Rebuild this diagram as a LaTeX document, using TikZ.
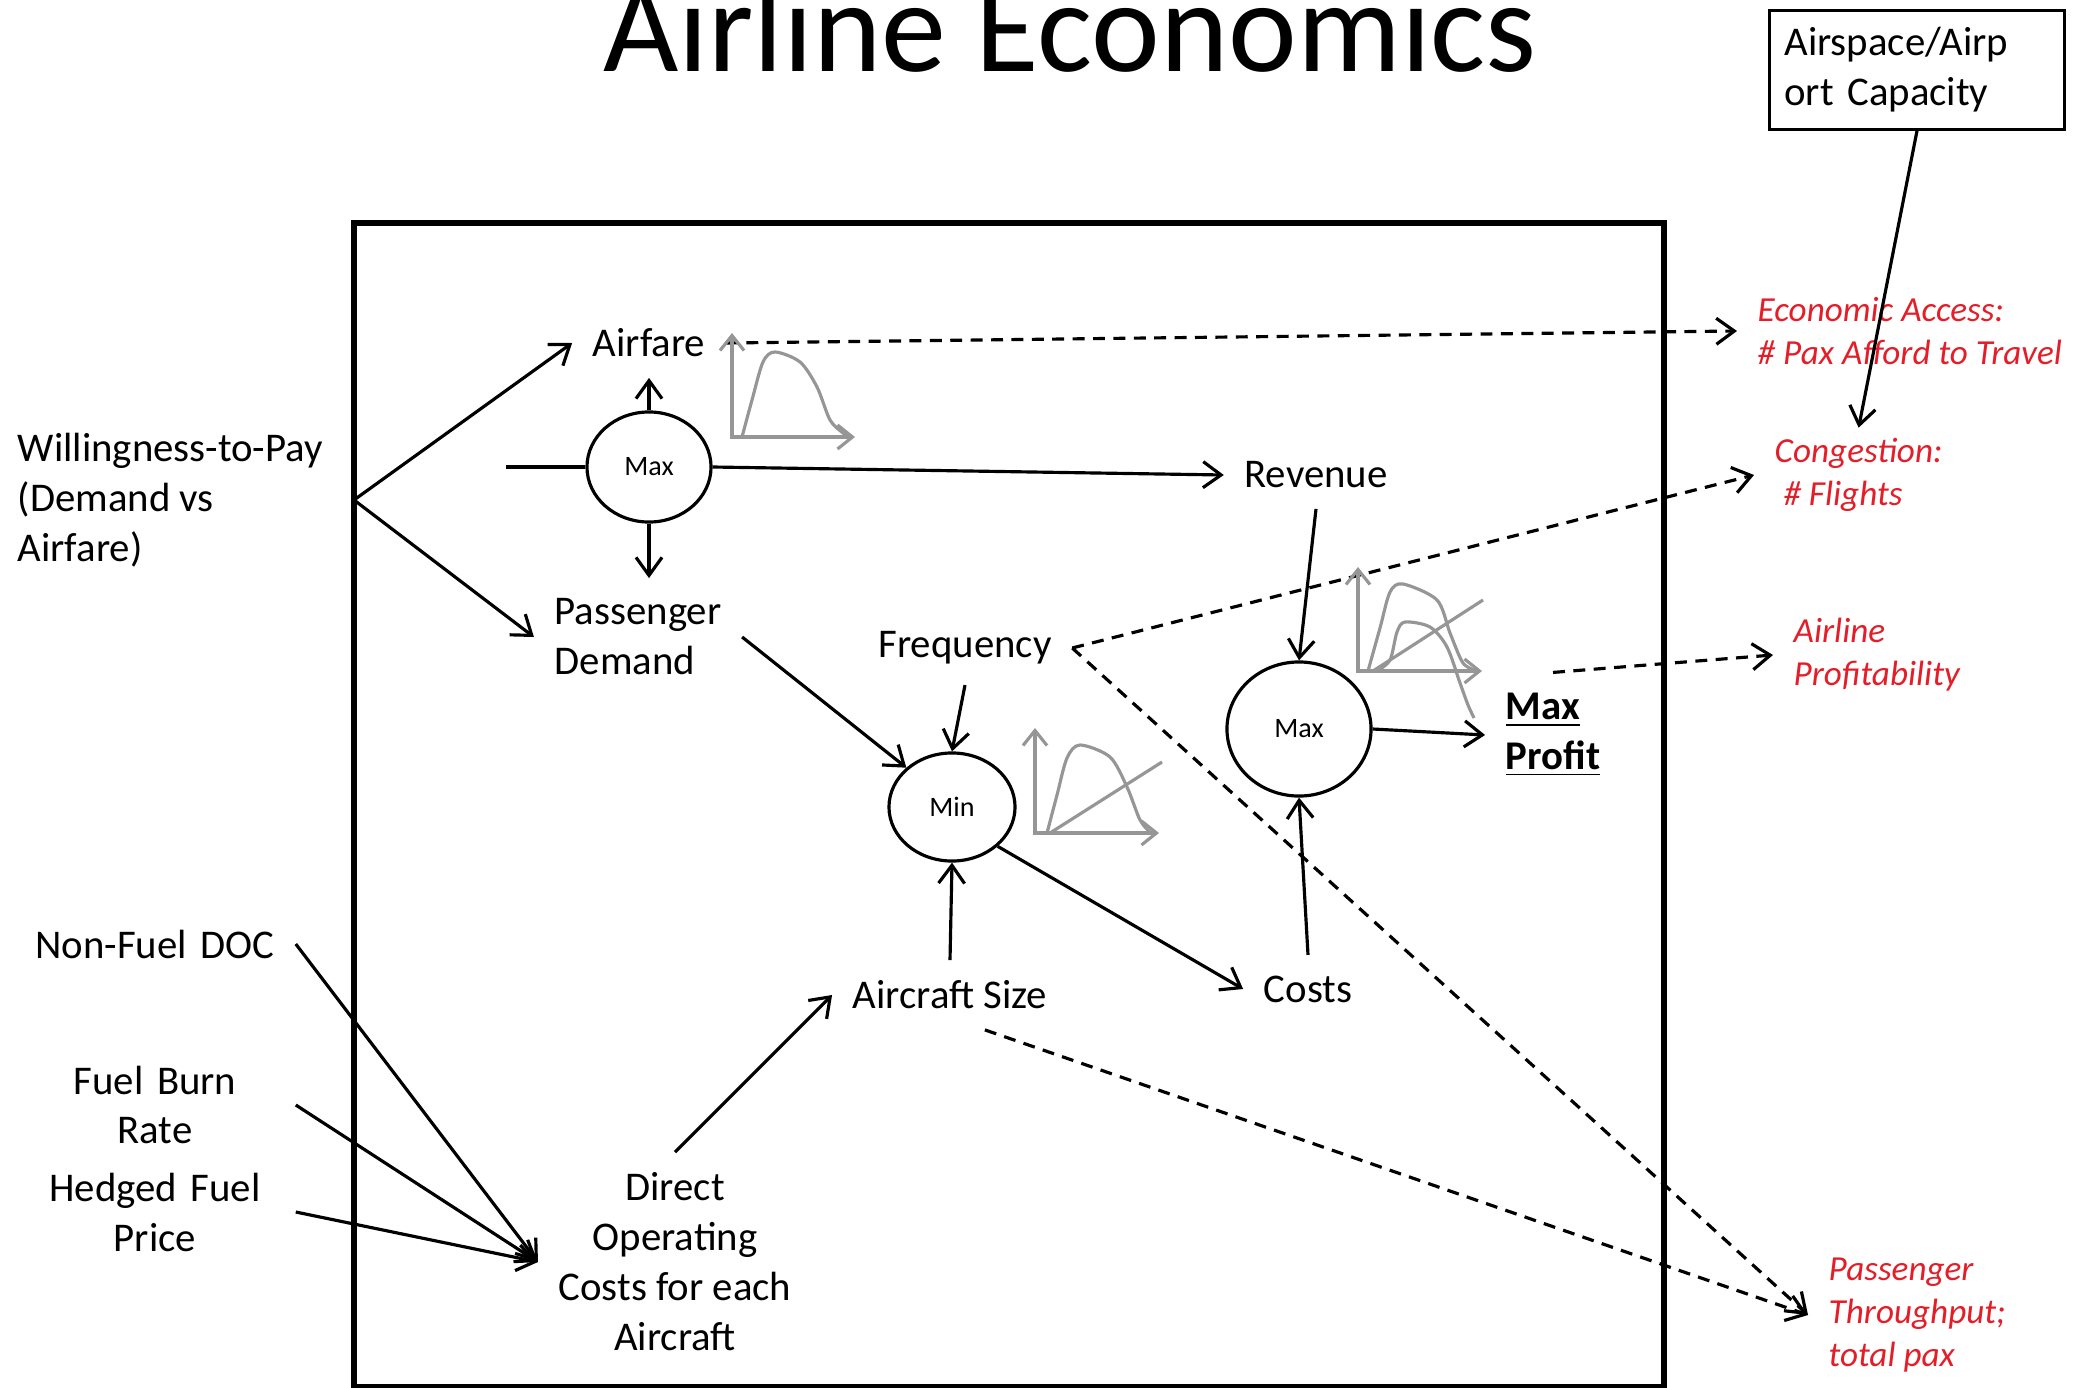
\documentclass[tikz,border=0pt]{standalone}
\usepackage{fontspec}
\setmainfont{Carlito}
\usetikzlibrary{shapes.geometric,arrows.meta}
\definecolor{notered}{RGB}{228,30,40}
\definecolor{sketchgray}{RGB}{150,150,150}
\newcommand\lblfont{\fontsize{11.6}{14.2}\selectfont}
\newcommand\notefont{\fontsize{10}{12.2}\selectfont\itshape}
\newcommand\optfont{\fontsize{8}{9.6}\selectfont}
\newcommand\titlefont{\fontsize{37}{44}\selectfont}
\begin{document}
\begin{tikzpicture}[x=0.01cm, y=-0.01cm,
			every node/.style = {font=\lblfont, inner sep=0.2cm, align=center},
			optnode/.style = {shape=ellipse, draw, line width=0.9pt, inner sep=0pt, font=\optfont},
			srcnode/.style = {text width=2.4cm},
			note/.style = {anchor=west, align=left, text=notered, font=\notefont, inner xsep=0.2cm, inner ysep=0.1cm},
			arr/.style = {-{Straight Barb[length=1.8mm, width=2.6mm]}, line width=0.9pt},
			dasharr/.style = {arr, dash pattern=on 3.4pt off 2.4pt},
			sketch/.style = {draw=sketchgray, line width=0.9pt},
			sketcharr/.style = {sketch, {Straight Barb[length=1.5mm, width=2.4mm]}-{Straight Barb[length=1.5mm, width=2.4mm]}}]
			
			\useasboundingbox (0,0) rectangle (2082,1388);
			\draw[line width=1.6pt] (354,223) rectangle (1664,1387);
			
			\node[anchor=base, font=\titlefont] (title) at (1070,72) {Airline Economics};
			\node[draw, align=left, text width=2.65cm, inner xsep=0.15cm, inner ysep=0.1cm, minimum height=1.19cm, line width=0.7pt] (capacity) at (1917,70) {Airspace/Airp\\ort Capacity};
			
			\node[anchor=west, align=left] (wtp) at (-3,500) {Willingness-to-Pay\\(Demand vs\\Airfare)};
			\node (airfare) at (649,343) {Airfare};
			\node[optnode, minimum width=1.24cm, minimum height=1.1cm] (max1) at (649,467) {Max};
			\node[align=left] (pdemand) at (638,637) {Passenger\\Demand};
			\node (revenue) at (1316,475) {Revenue};
			\node (freq) at (965,648) {Frequency};
			\node[optnode, minimum width=1.26cm, minimum height=1.08cm] (minc) at (952,807) {Min};
			\node[optnode, minimum width=1.44cm, minimum height=1.34cm] (max2) at (1299,729) {Max};
			\node[align=left, font=\lblfont\bfseries] (profit) at (1553,735) {\underline{Max}\\\underline{Profit}};
			\node (costs) at (1308,989) {Costs};
			\node (acsize) at (950,995) {Aircraft Size};
			\node[srcnode] (nonfuel) at (155,944) {Non-Fuel DOC};
			\node[srcnode] (fuelburn) at (155,1105) {Fuel Burn\\Rate};
			\node[srcnode] (hedged) at (155,1212) {Hedged Fuel\\Price};
			\node (doc) at (675,1262) {Direct\\Operating\\Costs for each\\Aircraft};
			
			\node[note] (access) at (1737,331) {Economic Access:\\\# Pax Afford to Travel};
			\node[note] (congestion) at (1754,475) {Congestion:\\\hspace*{0.25em}\# Flights};
			\node[note] (profitability) at (1773,655) {Airline\\Profitability};
			\node[note] (throughput) at (1808,1315) {Passenger\\Throughput;\\total pax};
			
			\coordinate (split) at (354,500);
			\coordinate (maxin) at (506,467);
			
			\draw[arr] (split) -- (airfare.west);
			\draw[arr] (split) -- (pdemand.west);
			\draw[line width=0.9pt] (maxin) -- (max1.west);
			\draw[arr] (max1.north) -- (airfare.south);
			\draw[arr] (max1.south) -- (max1.south |- pdemand.north);
			\draw[arr] (max1.east) -- (revenue.west);
			\draw[arr] (revenue.south) -- (max2.north);
			\draw[arr] (max2.east) -- (profit.west);
			\draw[arr] (costs.north) -- (max2.south);
			\draw[arr] (pdemand.east) -- (minc.north west);
			\draw[arr] (freq.south) -- (minc.north);
			\draw[arr] (acsize.north) -- (minc.south);
			\draw[arr] (minc.south east) -- (costs.west);
			\draw[arr] (doc.north) -- (acsize.west);
			\draw[arr] (nonfuel.east) -- (doc.west);
			\draw[arr] (fuelburn.east) -- (doc.west);
			\draw[arr] (hedged.east) -- (doc.west);
			\draw[arr] (capacity.south) -- (congestion.north);
			
			\draw[dasharr] (airfare.east) -- (access.west);
			\draw[dasharr] (freq.east) -- (congestion.west);
			\draw[dasharr] (freq.east) -- (throughput.west);
			\draw[dasharr] (acsize.-45) -- (throughput.west);
			\draw[dasharr] (profit.north) -- (profitability.west);
			
			\draw[sketcharr] (732,333) -- (732,437) -- (855,437);
			\draw[sketch] plot[smooth] coordinates {(742,437) (752,400) (763,362) (775,352) (800,362) (817,387) (830,420) (843,433) (850,437)};
			\draw[sketcharr] (1035,728) -- (1035,833) -- (1159,833);
			\draw[sketch] plot[smooth] coordinates {(1047,833) (1057,795) (1067,758) (1080,745) (1110,757) (1127,787) (1140,820) (1150,832)};
			\draw[sketch] (1050,833) -- (1162,762);
			\draw[sketcharr] (1358,567) -- (1358,671) -- (1482,671);
			\draw[sketch] plot[smooth] coordinates {(1368,671) (1380,628) (1390,592) (1403,584) (1437,600) (1450,633) (1463,663) (1477,671)};
			\draw[sketch] plot[smooth] coordinates {(1377,671) (1390,660) (1397,632) (1405,622) (1430,627) (1447,647) (1460,683) (1468,705) (1474,718)};
			\draw[sketch] (1373,671) -- (1483,600);
\end{tikzpicture}
\end{document}
